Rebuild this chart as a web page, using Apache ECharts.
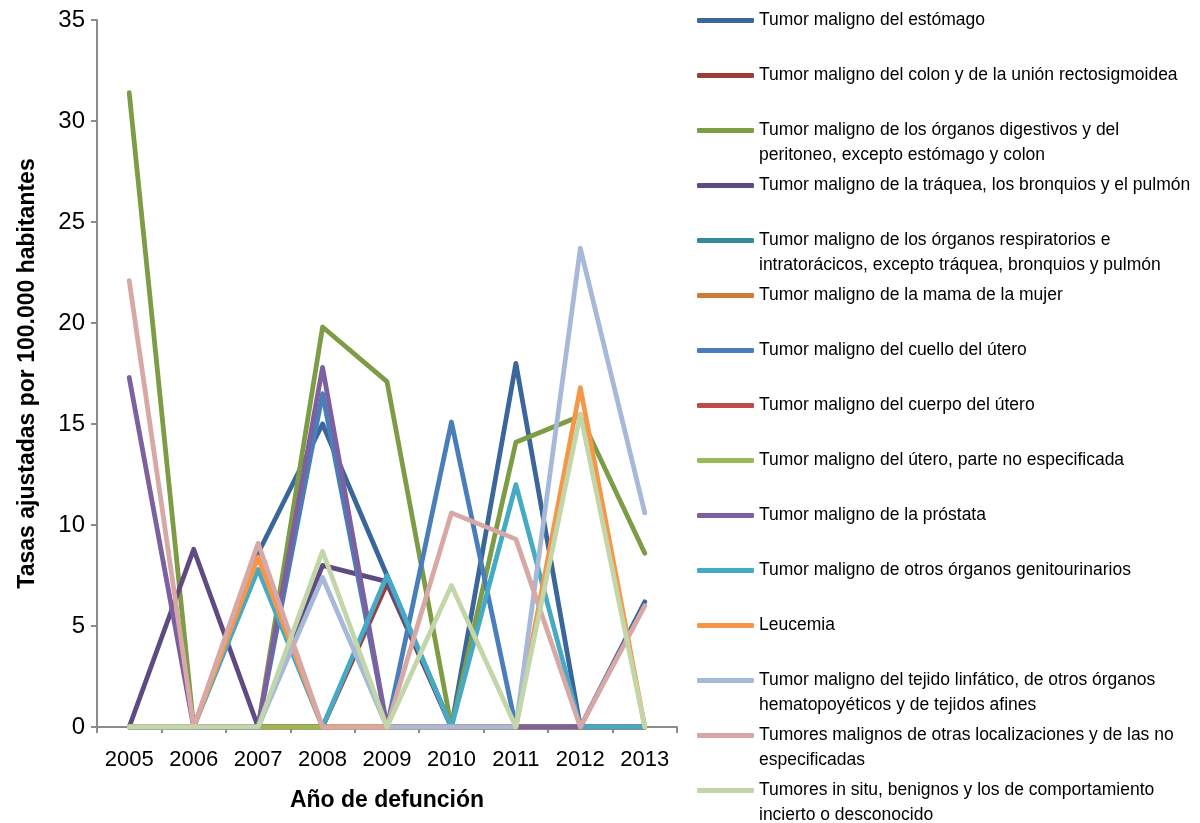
<!DOCTYPE html>
<html>
<head>
<meta charset="utf-8">
<script src="https://cdn.jsdelivr.net/npm/echarts@6/dist/echarts.min.js"></script>
<style>
  html, body { margin: 0; padding: 0; background: #fff; }
  #chart { width: 1200px; height: 823px; }
</style>
</head>
<body>
<div id="chart"></div>
<script>
// Tasas ajustadas por 100.000 habitantes, por año de defunción
const years = ['2005', '2006', '2007', '2008', '2009', '2010', '2011', '2012', '2013'];

const estomago       = [0, 0, 8.6, 15.0, 7.5, 0, 18.0, 0, 6.2];
const colon          = [0, 0, 0, 0, 7.1, 0, 0, 0, 0];
const digestivos     = [31.4, 0, 0, 19.8, 17.1, 0, 14.1, 15.4, 8.6];
const traquea        = [0, 8.8, 0, 8.0, 7.2, 0, 0, 0, 0];
const respiratorios  = [0, 0, 0, 0, 0, 0, 0, 0, 0];
const mama           = [0, 0, 0, 0, 0, 0, 0, 0, 0];
const cuelloUtero    = [0, 0, 0, 16.5, 0, 15.1, 0, 0, 0];
const cuerpoUtero    = [0, 0, 0, 0, 0, 0, 0, 0, 0];
const uteroNoEsp     = [0, 0, 0, 0, 0, 0, 0, 0, 0];
const prostata       = [17.3, 0, 0, 17.8, 0, 0, 0, 0, 0];
const genitourinario = [0, 0, 7.8, 0, 7.5, 0, 12.0, 0, 0];
const leucemia       = [0, 0, 8.4, 0, 0, 0, 0, 16.8, 0];
const linfatico      = [0, 0, 0, 7.4, 0, 0, 0, 23.7, 10.6];
const otras          = [22.1, 0, 9.1, 0, 0, 10.6, 9.3, 0, 6.0];
const inSitu         = [0, 0, 0, 8.7, 0, 7.0, 0, 15.5, 0];

const names = [
  'Tumor maligno del estómago',
  'Tumor maligno del colon y de la unión rectosigmoidea',
  'Tumor maligno de los órganos digestivos y del peritoneo, excepto estómago y colon',
  'Tumor maligno de la tráquea, los bronquios y el pulmón',
  'Tumor maligno de los órganos respiratorios e intratorácicos, excepto tráquea, bronquios y pulmón',
  'Tumor maligno de la mama de la mujer',
  'Tumor maligno del cuello del útero',
  'Tumor maligno del cuerpo del útero',
  'Tumor maligno del útero, parte no especificada',
  'Tumor maligno de la próstata',
  'Tumor maligno de otros órganos genitourinarios',
  'Leucemia',
  'Tumor maligno del tejido linfático, de otros órganos hematopoyéticos y de tejidos afines',
  'Tumores malignos de otras localizaciones y de las no especificadas',
  'Tumores in situ, benignos y los de comportamiento incierto o desconocido'
];

// how the legend breaks the long names
const legendLines = [
  ['Tumor maligno del estómago'],
  ['Tumor maligno del colon y de la unión rectosigmoidea'],
  ['Tumor maligno de los órganos digestivos y del', 'peritoneo, excepto estómago y colon'],
  ['Tumor maligno de la tráquea, los bronquios y el pulmón'],
  ['Tumor maligno de los órganos respiratorios e', 'intratorácicos, excepto tráquea, bronquios y pulmón'],
  ['Tumor maligno de la mama de la mujer'],
  ['Tumor maligno del cuello del útero'],
  ['Tumor maligno del cuerpo del útero'],
  ['Tumor maligno del útero, parte no especificada'],
  ['Tumor maligno de la próstata'],
  ['Tumor maligno de otros órganos genitourinarios'],
  ['Leucemia'],
  ['Tumor maligno del tejido linfático, de otros órganos', 'hematopoyéticos y de tejidos afines'],
  ['Tumores malignos de otras localizaciones y de las no', 'especificadas'],
  ['Tumores in situ, benignos y los de comportamiento', 'incierto o desconocido']
];

const values = [estomago, colon, digestivos, traquea, respiratorios, mama, cuelloUtero,
  cuerpoUtero, uteroNoEsp, prostata, genitourinario, leucemia, linfatico, otras, inSitu];

const colors = ['#3B6699', '#9C3D3A', '#7E9C45', '#5F4B82', '#36899B', '#CF7B37', '#4A7EBB',
  '#BE4B48', '#98B954', '#7D60A0', '#46AAC5', '#F79646', '#A7B9D8', '#D7A8A6', '#C3D6A9'];

const FONT = '"Liberation Sans", Arial, sans-serif';

const chart = echarts.init(document.getElementById('chart'));

chart.setOption({
  animation: false,
  color: colors,
  textStyle: { fontFamily: FONT },
  grid: { left: 97, right: 523, top: 20, bottom: 96 },
  legend: {
    orient: 'vertical',
    left: 697,
    top: -17,
    height: 1000,
    padding: 0,
    itemGap: -20,
    itemWidth: 57,
    itemHeight: 5,
    icon: 'roundRect',
    selectedMode: false,
    data: names,
    // blank first line keeps the swatch level with the first text line
    formatter: (name) => {
      const l = legendLines[names.indexOf(name)];
      return ' \n' + l[0] + '\n' + (l[1] || ' ');
    },
    textStyle: { fontFamily: FONT, fontSize: 17.5, lineHeight: 25, color: '#000' }
  },
  xAxis: {
    type: 'category',
    data: years,
    boundaryGap: true,
    name: 'Año de defunción',
    nameLocation: 'middle',
    nameGap: 62,
    nameTextStyle: { fontFamily: FONT, fontSize: 23, fontWeight: 'bold', color: '#000' },
    axisLine: { lineStyle: { color: '#8c8c8c', width: 2 } },
    axisTick: { show: true, length: 6, lineStyle: { color: '#8c8c8c', width: 2 } },
    axisLabel: { color: '#000', fontSize: 22, margin: 22, interval: 0, fontFamily: FONT }
  },
  yAxis: {
    type: 'value',
    min: 0,
    max: 35,
    interval: 5,
    name: 'Tasas ajustadas por 100.000 habitantes',
    nameLocation: 'middle',
    nameGap: 58,
    nameTextStyle: { fontFamily: FONT, fontSize: 23, fontWeight: 'bold', color: '#000' },
    axisLine: { show: true, lineStyle: { color: '#8c8c8c', width: 2 } },
    axisTick: { show: true, length: 6, lineStyle: { color: '#8c8c8c', width: 2 } },
    splitLine: { show: false },
    axisLabel: { color: '#000', fontSize: 24, margin: 12, fontFamily: FONT }
  },
  series: names.map((name, i) => ({
    name: name,
    type: 'line',
    data: values[i],
    symbol: 'none',
    lineStyle: { width: 4.8, cap: 'round', join: 'round' }
  }))
});
</script>
</body>
</html>
